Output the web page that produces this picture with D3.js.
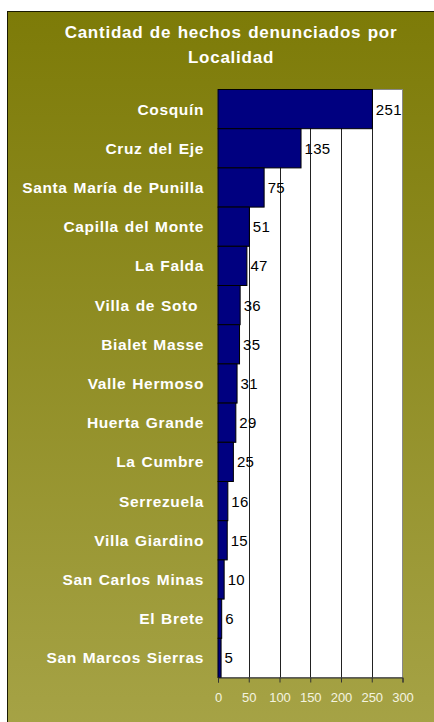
<!DOCTYPE html>
<html lang="es">
<head>
<meta charset="utf-8">
<script src="https://d3js.org/d3.v7.min.js"></script>
<style>
  body { margin: 0; background: #fff; }
  svg text { font-family: "Liberation Sans", Arial, sans-serif; }
</style>
</head>
<body>
<script>
// datos
const localidades = ["Cosquín", "Cruz del Eje", "Santa María de Punilla", "Capilla del Monte",
  "La Falda", "Villa de Soto ", "Bialet Masse", "Valle Hermoso", "Huerta Grande",
  "La Cumbre", "Serrezuela", "Villa Giardino", "San Carlos Minas", "El Brete", "San Marcos Sierras"];
const hechos = [251, 135, 75, 51, 47, 36, 35, 31, 29, 25, 16, 15, 10, 6, 5];
const ticks = [0, 50, 100, 150, 200, 250, 300];
const titulo = ["Cantidad de hechos denunciados por", "Localidad"];

const width = 434, height = 722;

const svg = d3.select("body").append("svg")
    .attr("width", width)
    .attr("height", height);

const defs = svg.append("defs");
const grad = defs.append("linearGradient")
    .attr("id", "fondo")
    .attr("x1", 0).attr("y1", 0).attr("x2", 0).attr("y2", 1);
grad.append("stop").attr("offset", "0%").attr("stop-color", "#7d7b08");
grad.append("stop").attr("offset", "100%").attr("stop-color", "#a6a346");

// marco del grafico
svg.append("rect")
    .attr("x", 7.5).attr("y", 11.5)
    .attr("width", width).attr("height", height)
    .attr("fill", "url(#fondo)")
    .attr("stroke", "#1a1a00")
    .attr("stroke-width", 1);

svg.append("text")
    .attr("x", 231)
    .attr("y", 38)
    .attr("text-anchor", "middle")
    .attr("fill", "#fff")
    .attr("font-weight", "bold")
    .style("font-size", "17px")
    .style("letter-spacing", "0.75px")
    .style("word-spacing", "1px")
    .selectAll("tspan")
    .data(titulo)
    .enter().append("tspan")
    .attr("x", 231)
    .attr("dy", (d, i) => i == 0 ? 0 : 25)
    .text(d => d);

const x = d3.scaleLinear()
    .domain([0, 300])
    .range([218, 402.5]);

const y = d3.scaleBand()
    .domain(localidades)
    .range([89.5, 677.5])
    .padding(0);

// area de trazado
svg.append("rect")
    .attr("x", x(0)).attr("y", y.range()[0])
    .attr("width", x(300) - x(0))
    .attr("height", y.range()[1] - y.range()[0])
    .attr("fill", "#fff")
    .attr("stroke", "#888")
    .attr("stroke-width", 1);

svg.append("g")
    .selectAll("line")
    .data(ticks.slice(1, -1))
    .enter().append("line")
    .attr("x1", d => Math.round(x(d)) + 0.5)
    .attr("x2", d => Math.round(x(d)) + 0.5)
    .attr("y1", y.range()[0])
    .attr("y2", y.range()[1])
    .attr("stroke", "#222")
    .attr("stroke-width", 1);

svg.append("g")
    .selectAll("rect")
    .data(hechos)
    .enter().append("rect")
    .attr("x", x(0))
    .attr("y", (d, i) => y(localidades[i]))
    .attr("width", d => x(d) - x(0))
    .attr("height", y.bandwidth())
    .attr("fill", "#000080")
    .attr("stroke", "#000")
    .attr("stroke-width", 1);

svg.append("g")
    .selectAll("text")
    .data(hechos)
    .enter().append("text")
    .attr("x", d => x(d) + 3.5)
    .attr("y", (d, i) => y(localidades[i]) + y.bandwidth() / 2)
    .attr("dy", "0.36em")
    .attr("fill", "#000")
    .style("font-size", "15px")
    .style("letter-spacing", "0.3px")
    .text(d => d);

svg.append("g")
    .selectAll("text")
    .data(localidades)
    .enter().append("text")
    .attr("x", 204)
    .attr("y", d => y(d) + y.bandwidth() / 2)
    .attr("dy", "0.36em")
    .attr("text-anchor", "end")
    .attr("fill", "#fff")
    .attr("font-weight", "bold")
    .style("font-size", "15.5px")
    .style("letter-spacing", "0.65px")
    .style("word-spacing", "1px")
    .style("white-space", "pre")
    .text(d => d);

const eje = svg.append("g")
    .attr("transform", "translate(0," + y.range()[1] + ")")
    .call(d3.axisBottom(x).tickValues(ticks).tickSize(5).tickPadding(10));
eje.select(".domain").attr("stroke", "#333");
eje.selectAll(".tick line").attr("stroke", "#333");
eje.selectAll(".tick text")
    .attr("fill", "#f4f4e0")
    .style("font-family", "'Liberation Sans', Arial, sans-serif")
    .style("font-size", "13px");
</script>
</body>
</html>
